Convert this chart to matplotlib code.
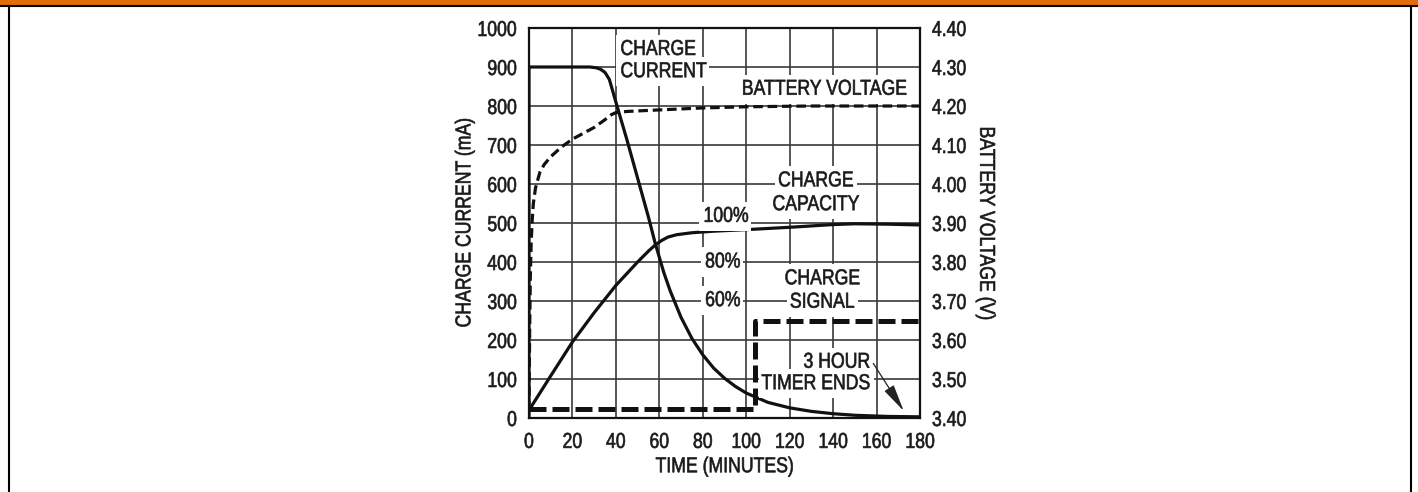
import matplotlib
matplotlib.use("Agg")
import matplotlib.pyplot as plt
from matplotlib.patches import Rectangle
from matplotlib.lines import Line2D
from matplotlib.patheffects import AbstractPathEffect
from matplotlib.transforms import Affine2D

plt.rcParams["font.family"] = ["Liberation Sans", "DejaVu Sans"]

# --- data ---
time_cur = [0, 0, 28, 31, 33, 35, 37, 40, 45, 50, 55, 58, 60, 62, 65, 70, 75, 80, 85, 90, 95, 100,
            110, 120, 130, 140, 150, 165, 180]
current = [0, 900, 900, 898, 894, 886, 868, 810, 715, 615, 515, 450, 412, 374, 326, 258, 204, 162,
           128, 102, 81, 64, 40, 26, 17, 11, 7, 4, 3]

time_cap = [0, 10, 20, 30, 40, 50, 55, 58, 61, 64, 68, 75, 85, 100, 120, 140, 150, 165, 180]
capacity = [20, 108, 195, 270, 340, 400, 428, 443, 455, 464, 470, 475, 479, 483, 489, 496, 498, 497, 495]

time_v = [0, 0.3, 0.6, 1, 1.5, 2, 3, 5, 7, 10, 15, 20, 25, 30, 35, 38, 40, 45, 60, 80, 100, 130, 180]
voltage = [3.42, 3.62, 3.76, 3.85, 3.91, 3.95, 3.99, 4.03, 4.05, 4.07, 4.095, 4.115, 4.13, 4.145,
           4.165, 4.178, 4.183, 4.186, 4.19, 4.195, 4.198, 4.2, 4.2]

time_sig = [0, 104, 104, 180]
signal = [22, 22, 250, 250]

x_ticks = list(range(0, 181, 20))
y_ticks = list(range(0, 1001, 100))
v_ticks = [3.40, 3.50, 3.60, 3.70, 3.80, 3.90, 4.00, 4.10, 4.20, 4.30, 4.40]

INK = "#1a1a1a"
FS = 15.5
SQ = 0.82   # Liberation Sans -> "narrow" look


class Narrow(AbstractPathEffect):
    """squeeze glyphs (or a box) along the text direction, optional thin stroke"""

    def __init__(self, align="center", sx=SQ, lw=0.0):
        super().__init__()
        self.align = align
        self.sx = sx
        self.lw = lw

    def draw_path(self, renderer, gc, tpath, affine, rgbFace=None):
        e = tpath.get_extents()
        c = {"left": e.x0, "center": (e.x0 + e.x1) / 2, "right": e.x1}[self.align]
        sq = Affine2D().translate(-c, 0).scale(self.sx, 1).translate(c, 0)
        if self.lw and rgbFace is not None:
            g = renderer.new_gc()
            g.copy_properties(gc)
            g.set_linewidth(self.lw)
            g.set_foreground(rgbFace)
            g.set_joinstyle("round")
            renderer.draw_path(g, tpath, sq + affine, rgbFace)
            g.restore()
        else:
            renderer.draw_path(gc, tpath, sq + affine, rgbFace)


def narrow(t, align):
    t.set_path_effects([Narrow(align, lw=0.45)])
    bp = t.get_bbox_patch()
    if bp is not None:
        bp.set_path_effects([Narrow(align)])


fig = plt.figure(figsize=(14.18, 4.92), dpi=100)
ax = fig.add_axes([529 / 1418, 1 - 418 / 492, 391 / 1418, 390 / 492])

ax.set_xlim(0, 180)
ax.set_ylim(0, 1000)
ax.set_xticks(x_ticks)
ax.set_yticks(y_ticks)
ax.grid(True, color="#3a3a3a", lw=1.2)
ax.set_axisbelow(True)
ax.tick_params(length=0, labelsize=FS, labelcolor=INK)
ax.tick_params(axis="y", pad=8.5)
ax.tick_params(axis="x", pad=10)
for s in ax.spines.values():
    s.set_linewidth(1.6)
    s.set_color("#111111")

ax.plot(time_cur, current, color="#111111", lw=2.3, solid_joinstyle="round", zorder=3)
ax.plot(time_cap, capacity, color="#111111", lw=2.3, zorder=3)
ax.plot(time_sig, signal, color="#111111", lw=3.6, dashes=(3.4, 1.2), zorder=3)

ax2 = ax.twinx()
ax2.set_ylim(3.4, 4.4)
ax2.set_yticks(v_ticks)
ax2.set_yticklabels(["%.2f" % v for v in v_ticks])
ax2.tick_params(length=0, labelsize=FS, labelcolor=INK, pad=8.5)
for s in ax2.spines.values():
    s.set_visible(False)
ax2.plot(time_v, voltage, color="#111111", lw=2.3, dashes=(3, 1.5), zorder=3)

ax.set_ylabel("CHARGE CURRENT (mA)", fontsize=FS, color=INK, va="center", ha="center")
ax.yaxis.set_label_coords(-0.164, 0.5)
ax.set_xlabel("TIME (MINUTES)", fontsize=FS, color=INK, va="center", ha="center")
ax.xaxis.set_label_coords(0.5, -0.125)
ax2.set_ylabel("BATTERY VOLTAGE (V)", fontsize=FS, color=INK, rotation=270, va="center", ha="center")
ax2.yaxis.set_label_coords(1.168, 0.5)

for t in ax.get_xticklabels():
    narrow(t, "center")
for t in ax.get_yticklabels():
    narrow(t, "right")
for t in ax2.get_yticklabels():
    narrow(t, "left")
for t in (ax.xaxis.label, ax.yaxis.label, ax2.yaxis.label):
    narrow(t, "center")


def lab(x, y, s, ha="center"):
    t = ax.text(x, y, s, fontsize=FS, color=INK, ha=ha, va="center", zorder=5,
                bbox=dict(facecolor="white", edgecolor="none", pad=3))
    narrow(t, ha)


lab(42, 945, "CHARGE", "left")
lab(42, 888, "CURRENT", "left")
lab(135.8, 843, "BATTERY VOLTAGE")
lab(132, 608, "CHARGE")
lab(132, 547, "CAPACITY")
lab(80.2, 517, "100%", "left")
lab(81, 400, "80%", "left")
lab(81, 301, "60%", "left")
lab(135, 357, "CHARGE")
lab(135, 297, "SIGNAL")
lab(157, 143, "3 HOUR", "right")
lab(157, 88, "TIMER ENDS", "right")

ax.annotate("", xy=(172.5, 18), xytext=(158.5, 140),
            arrowprops=dict(arrowstyle="-|>,head_length=1.2,head_width=0.24",
                            color="#222222", lw=0.9, mutation_scale=14, shrinkA=0, shrinkB=0),
            zorder=6)

# page frame: orange band on top, thin black border
fig.patches.append(Rectangle((0, 1 - 5 / 492), 1, 5 / 492, transform=fig.transFigure,
                             facecolor="#e26b0a", edgecolor="none"))
fig.lines.append(Line2D([0, 1], [1 - 5.8 / 492] * 2, transform=fig.transFigure, color="black", lw=1.5))
fig.lines.append(Line2D([9 / 1418] * 2, [0, 1 - 5.5 / 492], transform=fig.transFigure, color="black", lw=1.5))
fig.lines.append(Line2D([1410.5 / 1418] * 2, [0, 1 - 5.5 / 492], transform=fig.transFigure, color="black", lw=1.5))

fig.savefig("out.png", dpi=100)
